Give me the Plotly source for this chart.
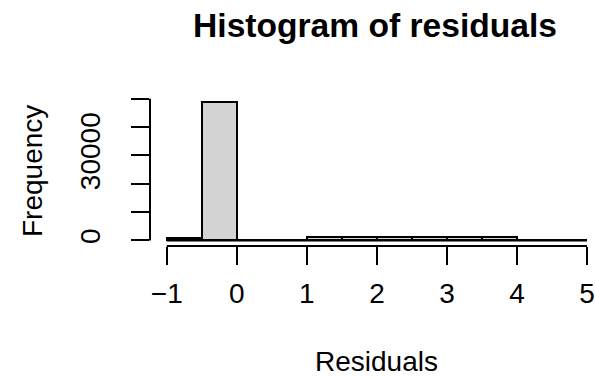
import plotly.graph_objects as go

# ---- data ----
bin_edges = [-1.0, -0.5, 0.0, 0.5, 1.0, 1.5, 2.0, 2.5, 3.0, 3.5, 4.0, 4.5, 5.0]
counts = [1000, 49000, 0, 0, 1100, 1100, 1100, 1100, 1050, 1050, 0, 0]
x_tickvals = [-1, 0, 1, 2, 3, 4, 5]
x_ticktext = ["\u22121", "0", "1", "2", "3", "4", "5"]
y_tickvals = [0, 10000, 20000, 30000, 40000, 50000]
y_ticktext = ["0", "", "", "30000", "", ""]
title_text = "Histogram of residuals"
x_label = "Residuals"
y_label = "Frequency"

centers = [(a + b) / 2 for a, b in zip(bin_edges[:-1], bin_edges[1:])]
widths = [b - a for a, b in zip(bin_edges[:-1], bin_edges[1:])]

FONT = "Liberation Sans, Arial, sans-serif"
LW = 2

fig = go.Figure()
# baseline of all bins (zero-count bins drawn as flat line, like R)
fig.add_trace(go.Scatter(
    x=bin_edges, y=[0] * len(bin_edges), mode="lines",
    line=dict(color="black", width=LW), hoverinfo="skip", showlegend=False))
fig.add_trace(go.Bar(
    x=centers, y=counts, width=widths,
    marker=dict(color="#D3D3D3", line=dict(color="black", width=LW)),
    showlegend=False))

ymax = max(counts)
yr = [-0.04 * ymax, 1.04 * ymax]
xspan = bin_edges[-1] - bin_edges[0]
xr = [bin_edges[0] - 0.04 * xspan, 5.085]

fig.update_layout(
    width=595, height=378,
    margin=dict(l=150, r=0, t=96, b=132, pad=0),
    paper_bgcolor="white", plot_bgcolor="white",
    font=dict(family=FONT, size=28, color="black"),
    bargap=0,
    title=dict(text=title_text, x=375 / 595, xref="container", xanchor="center",
               y=1 - 25 / 378, yref="container", yanchor="middle",
               font=dict(family=FONT, size=33.6, color="black", weight="bold")),
    xaxis=dict(range=xr, showgrid=False, zeroline=False, showline=False,
               ticks="outside", ticklen=18, tickwidth=LW, tickcolor="black",
               tickvals=x_tickvals, ticktext=x_ticktext, ticklabeloverflow="allow",
               ticklabelstandoff=4, tickfont=dict(size=28)),
    yaxis=dict(range=yr, showgrid=False, zeroline=False, showline=False,
               ticks="outside", ticklen=18, tickwidth=LW, tickcolor="black",
               tickvals=y_tickvals, ticktext=y_ticktext, tickangle=-90,
               ticklabelstandoff=20, tickfont=dict(size=28)),
    shapes=[
        dict(type="line", xref="x", yref="paper", x0=x_tickvals[0], x1=x_tickvals[-1],
             y0=0, y1=0, line=dict(color="black", width=LW)),
        dict(type="line", xref="paper", yref="y", x0=0, x1=0,
             y0=y_tickvals[0], y1=y_tickvals[-1], line=dict(color="black", width=LW)),
    ],
    annotations=[
        dict(text=x_label, xref="x", yref="paper", x=(xr[0] + 5.24) / 2, y=0,
             yshift=-(361 - 245.5), xanchor="center", yanchor="middle",
             showarrow=False, font=dict(size=28)),
        dict(text=y_label, xref="paper", yref="y", x=0, xshift=32 - 150,
             y=(yr[0] + yr[1]) / 2, xanchor="center", yanchor="middle",
             textangle=-90, showarrow=False, font=dict(size=28)),
    ],
)

fig.write_html("out.html")
